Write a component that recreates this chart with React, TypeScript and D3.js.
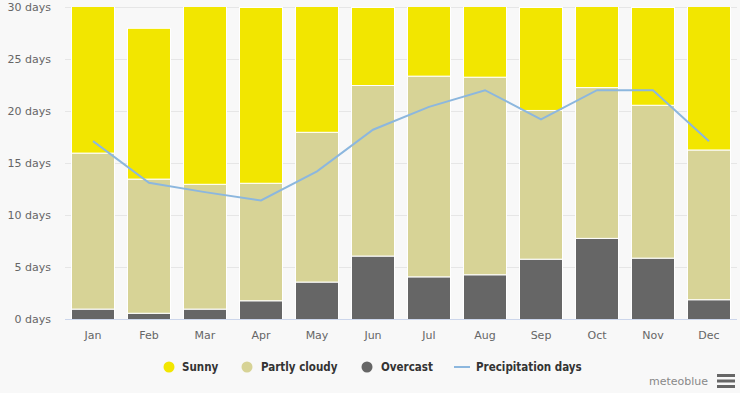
import React from 'react';
import * as d3 from 'd3';

const months = ['Jan', 'Feb', 'Mar', 'Apr', 'May', 'Jun', 'Jul', 'Aug', 'Sep', 'Oct', 'Nov', 'Dec'];
const overcast = [1.0, 0.6, 1.0, 1.8, 3.6, 6.1, 4.1, 4.3, 5.8, 7.8, 5.9, 1.9];
const partlyCloudy = [15.0, 12.9, 12.0, 11.3, 14.4, 16.4, 19.3, 19.0, 14.3, 14.5, 14.7, 14.4];
const sunny = [15.0, 14.5, 18.0, 16.9, 13.0, 7.5, 7.6, 7.7, 9.9, 8.7, 9.4, 14.7];
const precipitation = [17.1, 13.1, 12.2, 11.4, 14.2, 18.2, 20.4, 22.0, 19.2, 22.0, 22.0, 17.1];
const yTicks = [0, 5, 10, 15, 20, 25, 30];

const series = [
    { name: 'Overcast', values: overcast, colour: '#666666' },
    { name: 'Partly cloudy', values: partlyCloudy, colour: '#d7d396' },
    { name: 'Sunny', values: sunny, colour: '#f2e600' },
];

const width = 740;
const height = 393;
const marginLeft = 65;
const marginRight = 3;
const marginTop = 7;
const plotBottom = 319;

export default function App() {
    const x = d3.scaleBand()
        .domain(months)
        .range([marginLeft, width - marginRight])
        .paddingInner(12 / 56)
        .paddingOuter(6 / 56);
    const y = d3.scaleLinear()
        .domain([0, 30])
        .range([plotBottom, marginTop]);

    const stacked = months.map((m, i) => {
        let base = 0;
        return series.map(s => {
            const seg = { month: m, name: s.name, colour: s.colour, y0: base, y1: base + s.values[i] };
            base += s.values[i];
            return seg;
        });
    }).flat();

    const line = d3.line<number>()
        .x((_d, i) => (x(months[i]) as number) + x.bandwidth() / 2)
        .y(d => y(d));

    const font = '"DejaVu Sans", Verdana, sans-serif';

    // legend entries: marker centre, then label start
    const legend = [
        { label: 'Sunny', colour: '#f2e600', x: 169, tx: 182, kind: 'dot' },
        { label: 'Partly cloudy', colour: '#d7d396', x: 247, tx: 261, kind: 'dot' },
        { label: 'Overcast', colour: '#666666', x: 367, tx: 381, kind: 'dot' },
        { label: 'Precipitation days', colour: '#8cb7de', x: 462, tx: 476, kind: 'line' },
    ];

    return (
        <div style={{ position: 'fixed', left: 0, top: 0 }}>
            <svg width={width} height={height} viewBox={`0 0 ${width} ${height}`} style={{ display: 'block', fontFamily: font }}>
                <defs>
                    <clipPath id="plot">
                        <rect x={marginLeft} y={marginTop} width={width - marginRight - marginLeft} height={plotBottom - marginTop} />
                    </clipPath>
                </defs>
                <rect x={0} y={0} width={width} height={height} fill="#f8f8f8" />
                {yTicks.map(t => (
                    <g key={t}>
                        {t > 0 && <line x1={marginLeft} x2={width - marginRight} y1={y(t) + 0.5} y2={y(t) + 0.5} stroke="#e6e6e6" />}
                        <text x={51} y={y(t) + 4} textAnchor="end" fontSize={11} fill="#666666">{t} days</text>
                    </g>
                ))}
                <g clipPath="url(#plot)">
                    {stacked.map(s => (
                        <rect key={s.month + s.name}
                            x={(x(s.month) as number) + 0.5}
                            y={y(s.y1) + 0.5}
                            width={x.bandwidth() - 1}
                            height={y(s.y0) - y(s.y1)}
                            fill={s.colour}
                            stroke="#ffffff"
                            strokeWidth={1} />
                    ))}
                </g>
                <line x1={marginLeft} x2={width - marginRight} y1={plotBottom + 0.5} y2={plotBottom + 0.5} stroke="#ccd6eb" />
                <path d={line(precipitation) ?? ''} fill="none" stroke="#8cb7de" strokeWidth={2} />
                {months.map(m => (
                    <text key={m} x={(x(m) as number) + x.bandwidth() / 2} y={339} textAnchor="middle" fontSize={11} fill="#666666">{m}</text>
                ))}
                {legend.map(l => (
                    <g key={l.label}>
                        {l.kind === 'dot'
                            ? <circle cx={l.x} cy={367} r={5.5} fill={l.colour} />
                            : <line x1={l.x - 8} x2={l.x + 8} y1={367} y2={367} stroke={l.colour} strokeWidth={2} />}
                        <text x={l.tx} y={371} fontSize={11.5} fontWeight="bold" fill="#333333"
                            style={{ fontFamily: '"DejaVu Sans Condensed", "DejaVu Sans", sans-serif' }}>{l.label}</text>
                    </g>
                ))}
                <text x={708} y={385} textAnchor="end" fontSize={11} fill="#888888">meteoblue</text>
                {[0, 1, 2].map(i => (
                    <rect key={i} x={717} y={374 + i * 5.5} width={18} height={3} fill="#666666" />
                ))}
            </svg>
        </div>
    );
}
